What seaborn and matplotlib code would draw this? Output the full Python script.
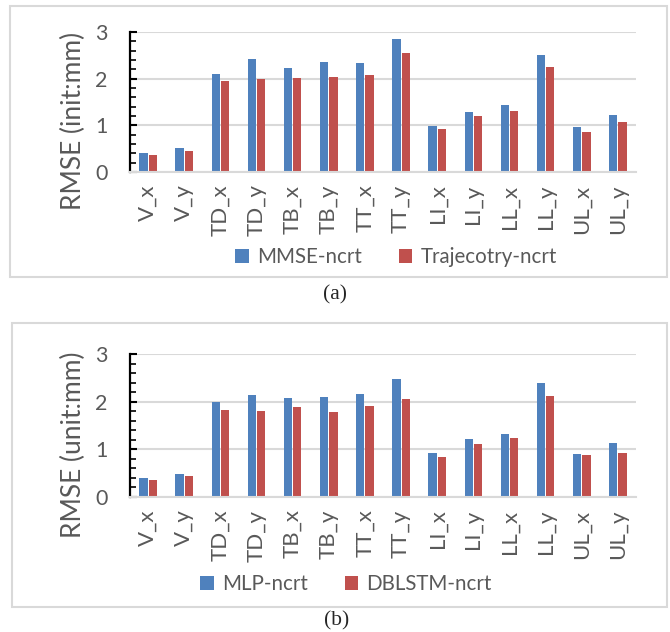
import numpy as np
import pandas as pd
import seaborn as sns
import matplotlib.pyplot as plt
from matplotlib.patches import Rectangle
from matplotlib.ticker import MultipleLocator

labels = ['V_x', 'V_y', 'TD_x', 'TD_y', 'TB_x', 'TB_y', 'TT_x', 'TT_y',
          'LI_x', 'LI_y', 'LL_x', 'LL_y', 'UL_x', 'UL_y']

# (a)
mmse = [0.41, 0.51, 2.11, 2.43, 2.22, 2.36, 2.34, 2.85, 0.99, 1.29, 1.44, 2.51, 0.96, 1.22]
traj = [0.37, 0.45, 1.94, 2.00, 2.01, 2.03, 2.08, 2.55, 0.92, 1.21, 1.31, 2.24, 0.86, 1.08]

# (b)
mlp = [0.39, 0.48, 2.00, 2.14, 2.08, 2.09, 2.16, 2.47, 0.92, 1.22, 1.33, 2.40, 0.91, 1.14]
dblstm = [0.35, 0.45, 1.83, 1.81, 1.88, 1.78, 1.91, 2.05, 0.84, 1.11, 1.24, 2.12, 0.89, 0.93]

sns.set_theme(style='white')
plt.rcParams['font.family'] = ['Lato', 'DejaVu Sans']

W, H = 670, 632
fig = plt.figure(figsize=(W / 100, H / 100), dpi=100)

def px(x0, y0, x1, y1):
    # pixel box -> figure fraction
    return [x0 / W, 1 - y1 / H, (x1 - x0) / W, (y1 - y0) / H]

def panel(box, ax_box, s1, s2, names, ylabel, caption, cap_y, leg_x, leg_y):
    bx = px(*box)
    fig.patches.append(Rectangle((bx[0], bx[1]), bx[2], bx[3], transform=fig.transFigure,
                                 fill=False, edgecolor='#d9d9d9', lw=1.5))
    ax = fig.add_axes(px(*ax_box))
    df = pd.DataFrame({'cat': labels * 2, 'val': s1 + s2,
                       'serie': [names[0]] * len(labels) + [names[1]] * len(labels)})
    sns.barplot(data=df, x='cat', y='val', hue='serie', ax=ax, saturation=1,
                palette=['#4f81bd', '#c0504d'], width=0.52, gap=0.12, linewidth=0,
                legend=True)
    ax.set_ylim(0, 3)
    ax.set_xlim(-0.5, len(labels) - 0.5)
    ax.yaxis.set_major_locator(MultipleLocator(1))
    ax.yaxis.set_minor_locator(MultipleLocator(0.2))
    ax.grid(axis='y', color='#d9d9d9', lw=1.5)
    ax.set_axisbelow(True)
    for s in ['top', 'right']:
        ax.spines[s].set_visible(False)
    ax.spines['left'].set_color('black')
    ax.spines['left'].set_linewidth(1.6)
    ax.spines['bottom'].set_color('#d9d9d9')
    ax.spines['bottom'].set_linewidth(1.5)
    ax.tick_params(axis='y', which='major', direction='in', length=5, width=1.5,
                   color='black', left=True, labelsize=15.5, labelcolor='#595959', pad=16)
    ax.tick_params(axis='y', which='minor', direction='in', length=4, width=1.2,
                   color='black', left=True)
    ax.tick_params(axis='x', length=0, labelsize=16, labelcolor='#595959', pad=9)
    plt.setp(ax.get_xticklabels(), rotation=90)
    ax.set_xlabel('')
    ax.set_ylabel(ylabel, fontsize=19, color='#595959')
    # label centred lower than the plot area, as in the original
    h = ax_box[3] - ax_box[1]
    ax.yaxis.set_label_coords((86 - ax_box[0]) / (ax_box[2] - ax_box[0]),
                              (ax_box[3] - (ax_box[1] + ax_box[3] + 38) / 2) / h)
    ax.legend(loc='center', bbox_to_anchor=((leg_x - ax_box[0]) / (ax_box[2] - ax_box[0]),
                                            (ax_box[3] - leg_y) / h),
              ncol=2, frameon=False, fontsize=14.8, labelcolor='#595959',
              handlelength=0.65, handleheight=0.65, handletextpad=0.4, columnspacing=1.8)
    fig.text(((box[0] + box[2]) / 2 - 3) / W, 1 - cap_y / H, caption, ha='center', va='center',
             fontsize=15.5, family='Liberation Serif')
    return ax

panel((10, 6, 667, 277), (130, 32, 636, 172), mmse, traj,
      ['MMSE-ncrt', 'Trajecotry-ncrt'], 'RMSE (init:mm)', '(a)', 295, 396, 257)
panel((12, 323, 667, 607), (130, 354, 636, 497), mlp, dblstm,
      ['MLP-ncrt', 'DBLSTM-ncrt'], 'RMSE (unit:mm)', '(b)', 621, 346, 584)

fig.savefig('out.png', dpi=100)
